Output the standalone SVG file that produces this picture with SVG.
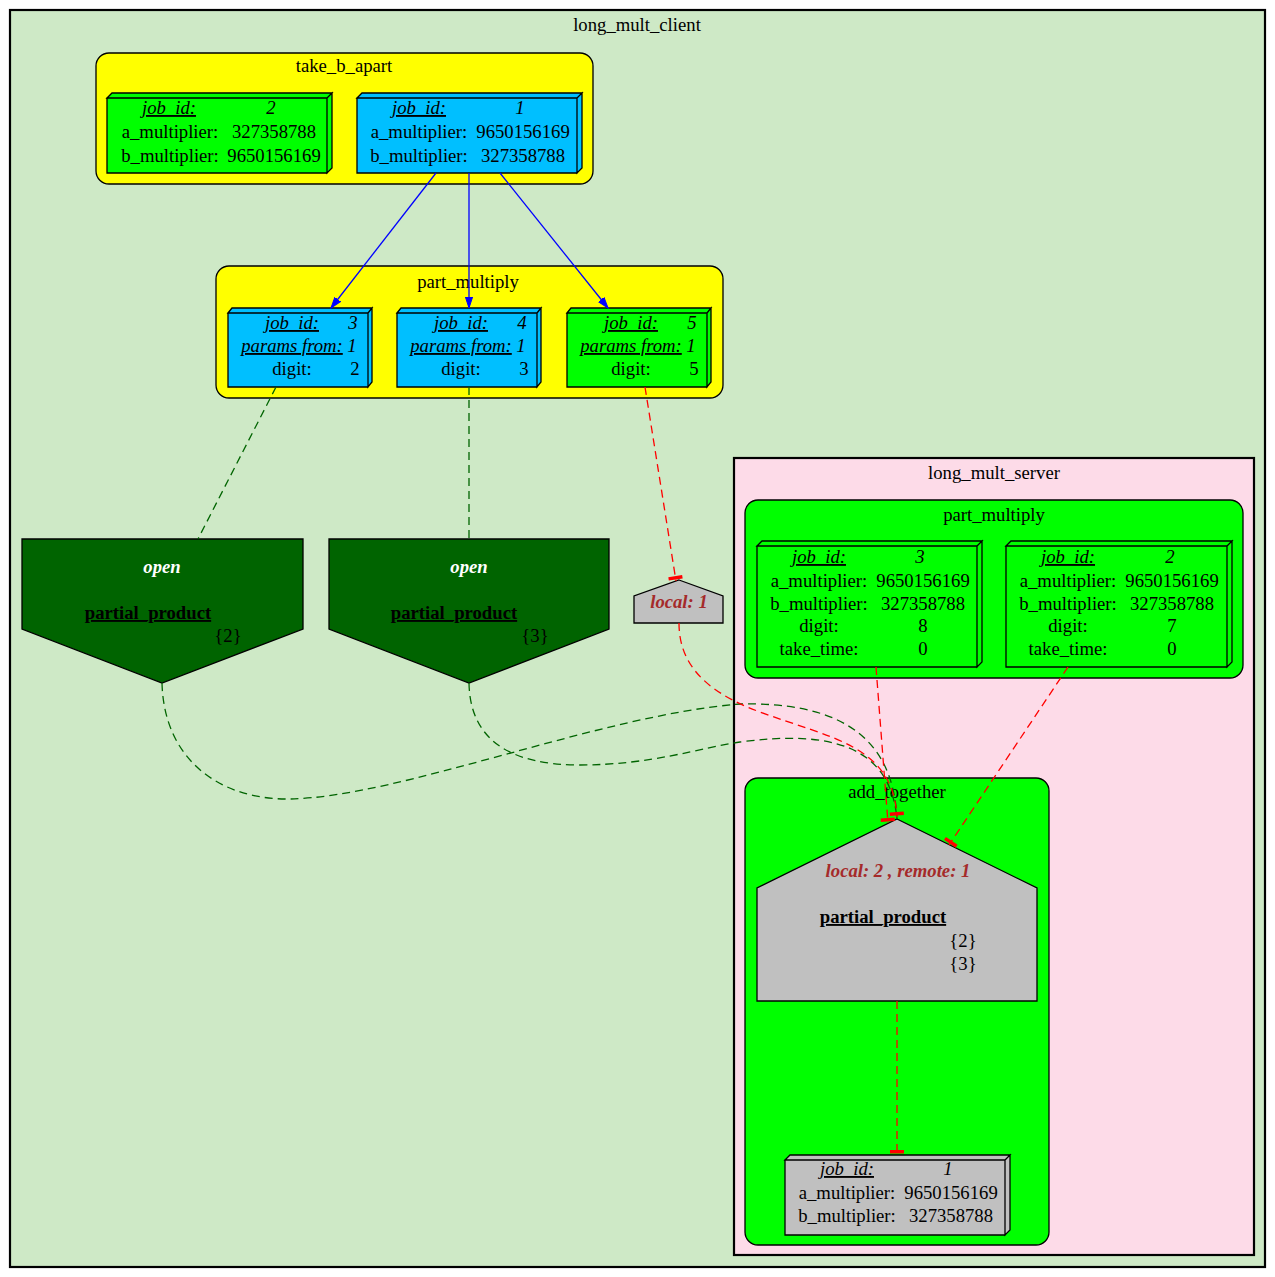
<svg xmlns="http://www.w3.org/2000/svg" width="1275" height="1277" viewBox="0 0 1275 1277">
  <style>
    text { font-family: "Liberation Serif", "Times New Roman", serif; font-size: 18.7px; fill: #000; }
    .c { text-anchor: middle; }
    .k { font-style: italic; text-decoration: underline; }
    .i { font-style: italic; }
    .lbl { text-anchor: middle; }
    .open { font-weight: bold; font-style: italic; fill: #fff; text-anchor: middle; }
    .pp { font-weight: bold; text-decoration: underline; text-anchor: middle; }
    .loc { font-weight: bold; font-style: italic; fill: #a52a2a; text-anchor: middle; }
    .box { stroke: #000; stroke-width: 1.3; stroke-linejoin: miter; }
    .blue { fill: #00bfff; }
    .green { fill: #00ff00; }
    .grey { fill: #c0c0c0; }
    .cl { stroke: #000; stroke-width: 1.3; }
    .edge { fill: none; stroke-width: 1.3; }
    .solid-blue { stroke: #0000ff; }
    .dash-red { stroke: #ff0000; stroke-dasharray: 8,5; }
    .dash-green { stroke: #006400; stroke-dasharray: 8,5; }
  </style>
  <defs>
    <marker id="arrow" markerUnits="userSpaceOnUse" viewBox="0 -5 12 10" markerWidth="12" markerHeight="10" refX="11" refY="0" orient="auto">
      <polygon points="0,-3.6 11,0 0,3.6" fill="#0000ff" stroke="#0000ff" stroke-width="1"/>
    </marker>
    <marker id="tee" markerUnits="userSpaceOnUse" viewBox="-10 -10 20 20" markerWidth="20" markerHeight="20" refX="0" refY="0" orient="auto">
      <rect x="-5" y="-7" width="3.5" height="14" fill="#ff0000"/>
    </marker>
  </defs>

  <!-- clusters -->
  <g id="cluster_long_mult_client">
    <rect x="10" y="10" width="1255" height="1257" fill="#cee9c6" stroke="#000" stroke-width="2.2"/>
    <text class="lbl" x="637" y="31">long_mult_client</text>
  </g>
  <g id="cluster_take_b_apart">
    <rect x="96" y="53" width="497" height="131" rx="13" fill="#ffff00" class="cl"/>
    <text class="lbl" x="344" y="72">take_b_apart</text>
  </g>
  <g id="cluster_client_part_multiply">
    <rect x="216" y="266" width="507" height="132" rx="13" fill="#ffff00" class="cl"/>
    <text class="lbl" x="468" y="288">part_multiply</text>
  </g>
  <g id="cluster_long_mult_server">
    <rect x="734" y="458" width="520" height="797" fill="#fddbe8" stroke="#000" stroke-width="2.2"/>
    <text class="lbl" x="994" y="479">long_mult_server</text>
  </g>
  <g id="cluster_server_part_multiply">
    <rect x="745" y="500" width="498" height="178" rx="13" fill="#00ff00" class="cl"/>
    <text class="lbl" x="994" y="521">part_multiply</text>
  </g>
  <g id="cluster_add_together">
    <rect x="745" y="778" width="304" height="467" rx="13" fill="#00ff00" class="cl"/>
    <text class="lbl" x="897" y="798">add_together</text>
  </g>

  <!-- take_b_apart jobs -->
  <g id="job_2">
    <path class="box green" d="M107,98 H327 V173 H107 Z M107,98 L112,93 H332 L327,98 Z M327,98 L332,93 V168 L327,173 Z"/>
    <text class="c k" x="169" y="114">job_id:</text>
    <text class="c i" x="271" y="114">2</text>
    <text class="c" x="170" y="138">a_multiplier:</text>
    <text class="c" x="274" y="138">327358788</text>
    <text class="c" x="170" y="162">b_multiplier:</text>
    <text class="c" x="274" y="162">9650156169</text>
  </g>
  <g id="job_1">
    <path class="box blue" d="M357,98 H577 V173 H357 Z M357,98 L362,93 H582 L577,98 Z M577,98 L582,93 V168 L577,173 Z"/>
    <text class="c k" x="419" y="114">job_id:</text>
    <text class="c i" x="520" y="114">1</text>
    <text class="c" x="419" y="138">a_multiplier:</text>
    <text class="c" x="523" y="138">9650156169</text>
    <text class="c" x="419" y="162">b_multiplier:</text>
    <text class="c" x="523" y="162">327358788</text>
  </g>

  <!-- client part_multiply jobs -->
  <g id="job_3">
    <path class="box blue" d="M228,313 H368 V387 H228 Z M228,313 L232,308 H372 L368,313 Z M368,313 L372,308 V382 L368,387 Z"/>
    <text class="c k" x="292" y="329">job_id:</text>
    <text class="c i" x="353" y="329">3</text>
    <text class="c k" x="292" y="352">params from:</text>
    <text class="c i" x="352" y="352">1</text>
    <text class="c" x="292" y="375">digit:</text>
    <text class="c" x="355" y="375">2</text>
  </g>
  <g id="job_4">
    <path class="box blue" d="M397,313 H537 V387 H397 Z M397,313 L401,308 H541 L537,313 Z M537,313 L541,308 V382 L537,387 Z"/>
    <text class="c k" x="461" y="329">job_id:</text>
    <text class="c i" x="522" y="329">4</text>
    <text class="c k" x="461" y="352">params from:</text>
    <text class="c i" x="521" y="352">1</text>
    <text class="c" x="461" y="375">digit:</text>
    <text class="c" x="524" y="375">3</text>
  </g>
  <g id="job_5">
    <path class="box green" d="M567,313 H707 V387 H567 Z M567,313 L571,308 H711 L707,313 Z M707,313 L711,308 V382 L707,387 Z"/>
    <text class="c k" x="631" y="329">job_id:</text>
    <text class="c i" x="692" y="329">5</text>
    <text class="c k" x="631" y="352">params from:</text>
    <text class="c i" x="691" y="352">1</text>
    <text class="c" x="631" y="375">digit:</text>
    <text class="c" x="694" y="375">5</text>
  </g>

  <!-- open partial_product results -->
  <g id="open_2">
    <polygon points="22,539 303,539 303,629 162,683 22,629" fill="#006400" stroke="#000" stroke-width="1.3"/>
    <text class="open" x="162" y="573">open</text>
    <text class="pp" x="148" y="619">partial_product</text>
    <text class="c" x="228" y="642">{2}</text>
  </g>
  <g id="open_3">
    <polygon points="329,539 609,539 609,629 469,683 329,629" fill="#006400" stroke="#000" stroke-width="1.3"/>
    <text class="open" x="469" y="573">open</text>
    <text class="pp" x="454" y="619">partial_product</text>
    <text class="c" x="535" y="642">{3}</text>
  </g>

  <!-- local result -->
  <g id="local_1">
    <polygon points="679,580 723,596 723,623 634,623 634,596" fill="#c0c0c0" stroke="#000" stroke-width="1.3"/>
    <text class="loc" x="679" y="608">local: 1</text>
  </g>

  <!-- server part_multiply jobs -->
  <g id="server_job_3">
    <path class="box green" d="M757,546 H977 V667 H757 Z M757,546 L762,541 H982 L977,546 Z M977,546 L982,541 V662 L977,667 Z"/>
    <text class="c k" x="819" y="563">job_id:</text>
    <text class="c i" x="920" y="563">3</text>
    <text class="c" x="819" y="586.5">a_multiplier:</text>
    <text class="c" x="923" y="586.5">9650156169</text>
    <text class="c" x="819" y="609.5">b_multiplier:</text>
    <text class="c" x="923" y="609.5">327358788</text>
    <text class="c" x="819" y="632">digit:</text>
    <text class="c" x="923" y="632">8</text>
    <text class="c" x="819" y="654.5">take_time:</text>
    <text class="c" x="923" y="654.5">0</text>
  </g>
  <g id="server_job_2">
    <path class="box green" d="M1006,546 H1227 V667 H1006 Z M1006,546 L1011,541 H1232 L1227,546 Z M1227,546 L1232,541 V662 L1227,667 Z"/>
    <text class="c k" x="1068" y="563">job_id:</text>
    <text class="c i" x="1170" y="563">2</text>
    <text class="c" x="1068" y="586.5">a_multiplier:</text>
    <text class="c" x="1172" y="586.5">9650156169</text>
    <text class="c" x="1068" y="609.5">b_multiplier:</text>
    <text class="c" x="1172" y="609.5">327358788</text>
    <text class="c" x="1068" y="632">digit:</text>
    <text class="c" x="1172" y="632">7</text>
    <text class="c" x="1068" y="654.5">take_time:</text>
    <text class="c" x="1172" y="654.5">0</text>
  </g>

  <!-- add_together collected products -->
  <g id="add_together_products">
    <polygon points="897,819 1037,888 1037,1001 757,1001 757,888" fill="#c0c0c0" stroke="#000" stroke-width="1.3"/>
    <text class="loc" x="898" y="877">local: 2 , remote: 1</text>
    <text class="pp" x="883" y="923">partial_product</text>
    <text class="c" x="963" y="947">{2}</text>
    <text class="c" x="963" y="970">{3}</text>
  </g>
  <g id="add_together_job_1">
    <path class="box grey" d="M785,1160 H1005 V1235 H785 Z M785,1160 L790,1155 H1010 L1005,1160 Z M1005,1160 L1010,1155 V1230 L1005,1235 Z"/>
    <text class="c k" x="847" y="1175">job_id:</text>
    <text class="c i" x="948" y="1175">1</text>
    <text class="c" x="847" y="1199">a_multiplier:</text>
    <text class="c" x="951" y="1199">9650156169</text>
    <text class="c" x="847" y="1222">b_multiplier:</text>
    <text class="c" x="951" y="1222">327358788</text>
  </g>

  <!-- connectors -->
  <g id="connectors">
    <path class="edge solid-blue" d="M436,173 L331,308" marker-end="url(#arrow)"/>
    <path class="edge solid-blue" d="M469,173 L469,308" marker-end="url(#arrow)"/>
    <path class="edge solid-blue" d="M500,173 L608,308" marker-end="url(#arrow)"/>

    <path class="edge dash-green" d="M276,387 L198,539"/>
    <path class="edge dash-green" d="M469,387 L469,539"/>
    <path class="edge dash-red" d="M645,387 L676,581" marker-end="url(#tee)"/>

    <path class="edge dash-green" d="M162,683 C164,760 220,800 290,799 C400,797 600,715 740,704 C830,702 893,730 897,819"/>
    <path class="edge dash-green" d="M469,683 C470,740 510,765 580,765 C650,765 700,748 740,742 C830,730 890,745 897,819"/>
    <path class="edge dash-red" d="M679,623 C679,660 700,690 760,712 C830,738 893,745 897,817" marker-end="url(#tee)"/>
    <path class="edge dash-red" d="M876,667 L888,823" marker-end="url(#tee)"/>
    <path class="edge dash-red" d="M1068,667 L949,845" marker-end="url(#tee)"/>
    <path class="edge dash-red" d="M897,1001 L897,1155" marker-end="url(#tee)"/>
  </g>
</svg>
